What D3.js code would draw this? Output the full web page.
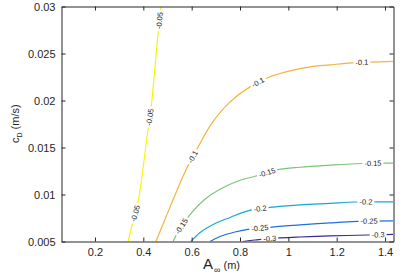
<!DOCTYPE html>
<html>
<head>
<meta charset="utf-8">
<script src="https://d3js.org/d3.v7.min.js"></script>
<style>
  body { margin: 0; background: #fff; }
  text { font-family: "Liberation Sans", Arial, Helvetica, sans-serif; fill: #262626; }
</style>
</head>
<body>
<svg width="415" height="277"></svg>
<script>
// contour levels and colours (parula)
const levels = [-0.05, -0.1, -0.15, -0.2, -0.25, -0.3]
const levelNames = ["-0.05", "-0.1", "-0.15", "-0.2", "-0.25", "-0.3"]
const levelColors = ["#f6f50e", "#f2b43c", "#7cc47a", "#17a8d2", "#1f6fe0", "#3a2c8e"]

// contour lines: A_inf (m) and c_D (m/s)
const a005 = [0.337, 0.353, 0.378, 0.419, 0.432, 0.461, 0.473]
const cd005 = [0.005, 0.0067, 0.00917, 0.01686, 0.0192, 0.0271, 0.030]
const a010 = [0.452, 0.510, 0.572, 0.626, 0.684, 0.759, 0.841, 0.924, 1.007, 1.090, 1.172, 1.264, 1.433]
const cd010 = [0.005, 0.00863, 0.01237, 0.01504, 0.0176, 0.01985, 0.02145, 0.02252, 0.02316, 0.02358, 0.02379, 0.02401, 0.02417]
const a015 = [0.523, 0.552, 0.601, 0.655, 0.717, 0.800, 0.862, 0.957, 1.048, 1.172, 1.305, 1.433]
const cd015 = [0.005, 0.00639, 0.0081, 0.00949, 0.01055, 0.01151, 0.01194, 0.01264, 0.0129, 0.01312, 0.0133, 0.01333]
const a020 = [0.597, 0.635, 0.697, 0.759, 0.833, 0.924, 1.048, 1.172, 1.276, 1.433]
const cd020 = [0.005, 0.00596, 0.00692, 0.00756, 0.00826, 0.00863, 0.0089, 0.00906, 0.0092, 0.00922]
const a025 = [0.676, 0.717, 0.779, 0.833, 0.932, 1.048, 1.172, 1.284, 1.433]
const cd025 = [0.005, 0.00553, 0.00601, 0.00628, 0.00653, 0.00676, 0.00698, 0.00714, 0.00719]
const a030 = [0.812, 0.862, 0.924, 1.048, 1.172, 1.326, 1.433]
const cd030 = [0.005, 0.00516, 0.00532, 0.00548, 0.00559, 0.00569, 0.00575]

// where the inline labels sit (A, c_D)
const lab005 = [[0.467, 0.0285], [0.428, 0.01824], [0.366, 0.00799]]
const lab010 = [[0.606, 0.01397], [0.875, 0.02198], [1.305, 0.02401]]
const lab015 = [[0.564, 0.0065], [0.912, 0.01237], [1.350, 0.01333]]
const lab020 = [[0.883, 0.00842], [1.321, 0.0092]]
const lab025 = [[0.883, 0.00639], [1.334, 0.00714]]
const lab030 = [[0.924, 0.00532], [1.371, 0.00575]]

const xTicks = [0.2, 0.4, 0.6, 0.8, 1, 1.2, 1.4]
const xTickLabels = ["0.2", "0.4", "0.6", "0.8", "1", "1.2", "1.4"]
const yTicks = [0.005, 0.01, 0.015, 0.02, 0.025, 0.03]
const yTickLabels = ["0.005", "0.01", "0.015", "0.02", "0.025", "0.03"]

const lineA = [a005, a010, a015, a020, a025, a030]
const lineCd = [cd005, cd010, cd015, cd020, cd025, cd030]
const labs = [lab005, lab010, lab015, lab020, lab025, lab030]

const svg = d3.select("svg")
const mLeft = 61.5, mRight = 393.5, mTop = 6.5, mBottom = 241.5

var x = d3.scaleLinear().domain([0.0615, 1.435]).range([mLeft, mRight])
var y = d3.scaleLinear().domain([0.005, 0.03]).range([mBottom, mTop])

svg.append("defs").append("clipPath").attr("id", "plotclip")
  .append("rect").attr("x", mLeft).attr("y", mTop)
  .attr("width", mRight - mLeft).attr("height", mBottom - mTop)

const plot = svg.append("g").attr("clip-path", "url(#plotclip)")
const line = d3.line().curve(d3.curveCatmullRom.alpha(0.5))
  .x(d => x(d[0])).y(d => y(d[1]))

levels.forEach(function(lv, i){
  var pts = lineA[i].map((a, j) => [a, lineCd[i][j]])
  var path = plot.append("path")
    .attr("d", line(pts))
    .attr("fill", "none")
    .attr("stroke", levelColors[i])
    .attr("stroke-width", 1.2)
  var node = path.node()
  var L = node.getTotalLength()
  labs[i].forEach(function(lb){
    var px = x(lb[0]), py = y(lb[1])
    var best = 0, bd = 1e9
    for (var s = 0; s <= L; s += 0.5) {
      var p = node.getPointAtLength(s)
      var dd = (p.x - px) * (p.x - px) + (p.y - py) * (p.y - py)
      if (dd < bd) { bd = dd; best = s }
    }
    var p0 = node.getPointAtLength(Math.max(0, best - 3))
    var p1 = node.getPointAtLength(Math.min(L, best + 3))
    var pc = node.getPointAtLength(best)
    var ang = Math.atan2(p1.y - p0.y, p1.x - p0.x) * 180 / Math.PI
    if (ang > 90) ang -= 180
    if (ang < -90) ang += 180
    var g = plot.append("g").attr("transform", "translate(" + pc.x + "," + pc.y + ") rotate(" + ang + ")")
    var bg = g.append("rect").attr("fill", "#fff")
    var t = g.append("text")
      .attr("text-anchor", "middle")
      .attr("dy", "0.35em")
      .style("font-size", "7.5px")
      .style("fill", "#1a1a1a")
      .text(levelNames[i])
    var w = t.node().getComputedTextLength() + 4
    bg.attr("x", -w / 2).attr("y", -3).attr("width", w).attr("height", 6)
  })
})

// axes, box with inward ticks
function styleAxis(g){
  g.selectAll("path").attr("stroke", "#262626")
  g.selectAll("line").attr("stroke", "#262626")
  g.selectAll("text").style("font-size", "11px").style("fill", "#262626").attr("font-family", null)
}
svg.append("g").attr("transform", "translate(0," + mBottom + ")")
  .call(d3.axisBottom(x).tickValues(xTicks).tickFormat((d, i) => xTickLabels[i])
    .tickSizeInner(-4).tickSizeOuter(0).tickPadding(7))
  .call(styleAxis)
svg.append("g").attr("transform", "translate(0," + mTop + ")")
  .call(d3.axisTop(x).tickValues(xTicks).tickFormat("")
    .tickSizeInner(-4).tickSizeOuter(0))
  .call(styleAxis)
svg.append("g").attr("transform", "translate(" + mLeft + ",0)")
  .call(d3.axisLeft(y).tickValues(yTicks).tickFormat((d, i) => yTickLabels[i])
    .tickSizeInner(-4).tickSizeOuter(0).tickPadding(6))
  .call(styleAxis)
svg.append("g").attr("transform", "translate(" + mRight + ",0)")
  .call(d3.axisRight(y).tickValues(yTicks).tickFormat("")
    .tickSizeInner(-4).tickSizeOuter(0))
  .call(styleAxis)
svg.selectAll(".domain").attr("stroke-width", 1)

// axis titles
var xt = svg.append("text").attr("x", 203).attr("y", 269)
xt.append("tspan").style("font-size", "15px").text("A")
xt.append("tspan").style("font-size", "9px").attr("dx", 1).attr("dy", 4).text("\u221e")
xt.append("tspan").style("font-size", "11px").attr("dy", -4).text(" (m)")

var yt = svg.append("text").attr("transform", "translate(19,143) rotate(-90)")
yt.append("tspan").style("font-size", "11px").text("c")
yt.append("tspan").style("font-size", "7px").attr("dy", 3).text("D")
yt.append("tspan").style("font-size", "11px").attr("dy", -3).text(" (m/s)")
</script>
</body>
</html>
